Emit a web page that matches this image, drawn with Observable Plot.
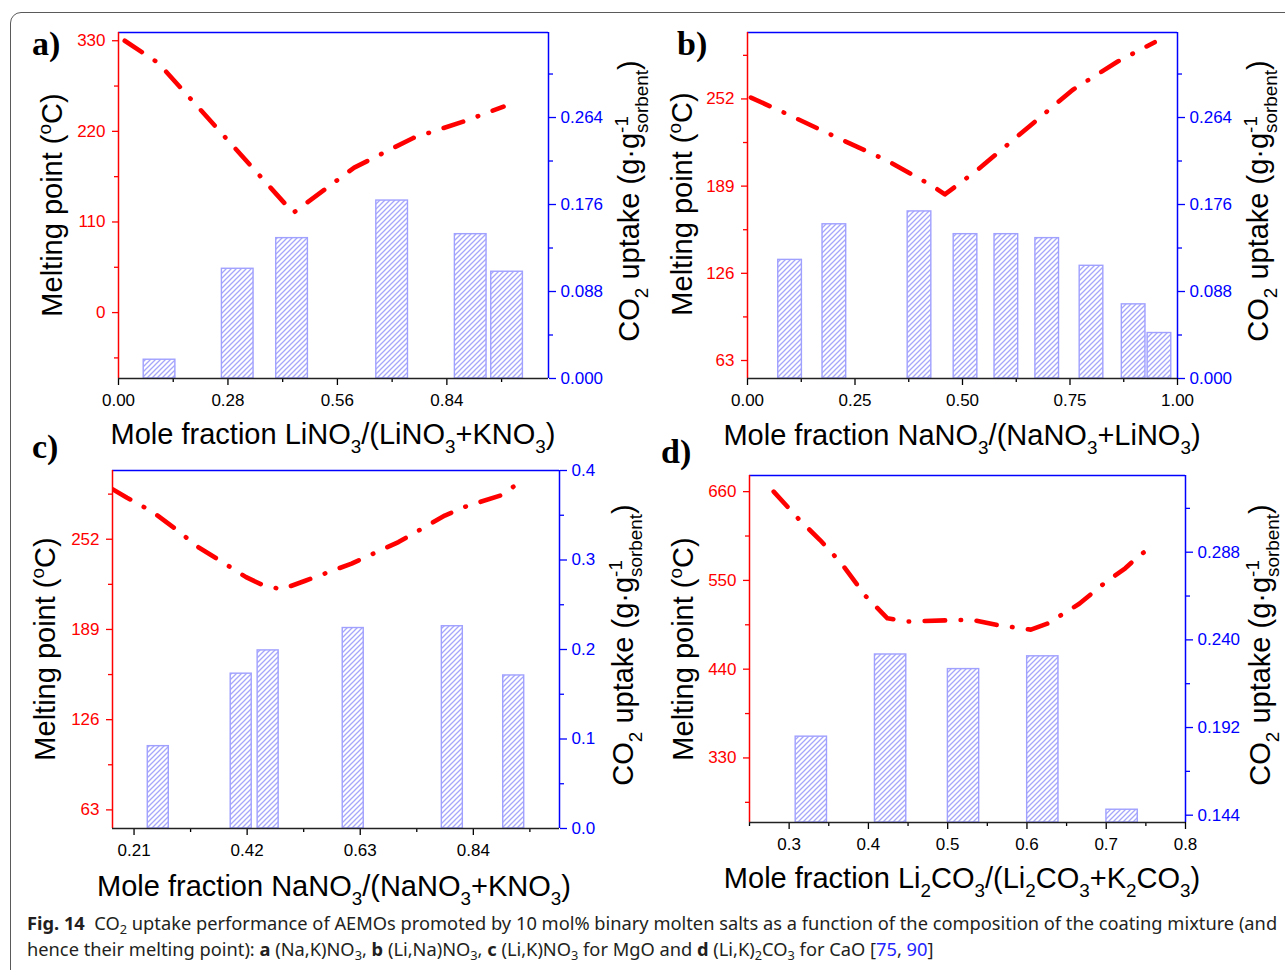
<!DOCTYPE html>
<html><head><meta charset="utf-8">
<script src="https://cdn.jsdelivr.net/npm/d3@7"></script>
<script src="https://cdn.jsdelivr.net/npm/@observablehq/plot@0.6"></script>
<style>
body{margin:0;background:#fff;}
#fig{position:relative;width:1285px;height:970px;overflow:hidden;background:#fff;}
#fig svg{position:absolute;left:0;top:0;}
#box{position:absolute;left:10px;top:12px;width:1330px;height:1000px;border:1.4px solid #5a5a5a;border-radius:11px;box-sizing:border-box;}
</style></head><body>
<div id="fig"><div id="box"></div></div>
<script>
// ---------- data ----------
// panel a: LiNO3/(LiNO3+KNO3)
const aBarX = [0.105, 0.305, 0.444, 0.700, 0.901, 0.994];
const aBarY = [0.019, 0.111, 0.142, 0.180, 0.146, 0.108];
const aLineX = [0.016, 0.102, 0.447, 0.603, 0.754, 0.883, 0.985];
const aLineY = [330, 303, 121, 176, 212, 232, 250];
const aXTicks = [0, 0.28, 0.56, 0.84];
const aLTicks = [0, 110, 220, 330];
const aRTicks = [0, 0.088, 0.176, 0.264];
// panel b: NaNO3/(NaNO3+LiNO3)
const bBarX = [0.099, 0.202, 0.400, 0.507, 0.602, 0.697, 0.800, 0.898, 0.958];
const bBarY = [0.120, 0.156, 0.169, 0.146, 0.146, 0.142, 0.114, 0.075, 0.046];
const bLineX = [0.008, 0.096, 0.211, 0.325, 0.431, 0.459, 0.536, 0.651, 0.756, 0.861, 0.947];
const bLineY = [253, 240.5, 223.7, 207.4, 189, 183, 201, 231, 258.5, 279, 293];
const bXTicks = [0, 0.25, 0.5, 0.75, 1.0];
const bLTicks = [63, 126, 189, 252];
const bRTicks = [0, 0.088, 0.176, 0.264];
// panel c: NaNO3/(NaNO3+KNO3)
const cBarX = [0.255, 0.409, 0.459, 0.617, 0.801, 0.915];
const cBarY = [0.092, 0.173, 0.199, 0.224, 0.226, 0.171];
const cLineX = [0.170, 0.197, 0.245, 0.284, 0.331, 0.370, 0.418, 0.449, 0.484, 0.528, 0.614, 0.701, 0.787, 0.827, 0.890, 0.933];
const cLineY = [287, 281, 271, 260, 246, 237, 225.5, 220, 217, 223, 235, 250, 268.5, 275, 282.5, 293.4];
const cXTicks = [0.21, 0.42, 0.63, 0.84];
const cLTicks = [63, 126, 189, 252];
const cRTicks = [0, 0.1, 0.2, 0.3, 0.4];
// panel d: Li2CO3/(Li2CO3+K2CO3)
const dBarX = [0.328, 0.428, 0.520, 0.620, 0.720];
const dBarY = [0.187, 0.232, 0.224, 0.231, 0.147];
const dLineX = [0.2805, 0.313, 0.339, 0.366, 0.397, 0.424, 0.450, 0.513, 0.534, 0.561, 0.605, 0.626, 0.666, 0.697, 0.724, 0.742, 0.762];
const dLineY = [660, 625, 600, 571, 530, 503, 499, 501, 500.5, 495, 489, 496.5, 521, 546, 565, 581, 595];
const dXTicks = [0.3, 0.4, 0.5, 0.6, 0.7, 0.8];
const dLTicks = [330, 440, 550, 660];
const dRTicks = [0.144, 0.192, 0.240, 0.288];

// ---------- layout / style ----------
const W = 1285, H = 970;
const RED = "#ff0000", BLUE = "#0000ff";
const FONT = "'Liberation Sans', Arial, sans-serif";
const fig = document.getElementById("fig");

const panels = [
  {frame:[118,32,548,378], xDomain:[0,1.1], xTicks:aXTicks, xMinor:[0.14,0.42,0.70,0.98], xFmt:".2f",
   lDomain:[-80,340], lTicks:aLTicks, lMinor:[-55,55,165,275],
   rDomain:[0,0.35], rTicks:aRTicks, rMinor:[0.044,0.132,0.22,0.308], rFmt:".3f",
   barX:aBarX, barY:aBarY, lineX:aLineX, lineY:aLineY, barW:0.081},
  {frame:[747,32,1177,378], xDomain:[0,1], xTicks:bXTicks, xMinor:[0.125,0.375,0.625,0.875], xFmt:".2f",
   lDomain:[50,300], lTicks:bLTicks, lMinor:[94.5,157.5,220.5,283.5],
   rDomain:[0,0.35], rTicks:bRTicks, rMinor:[0.044,0.132,0.22,0.308], rFmt:".3f",
   barX:bBarX, barY:bBarY, lineX:bLineX, lineY:bLineY, barW:0.055},
  {frame:[112,470,559,828], xDomain:[0.17,1.0], xTicks:cXTicks, xMinor:[0.315,0.525,0.735,0.945], xFmt:".2f",
   lDomain:[50,300], lTicks:cLTicks, lMinor:[94.5,157.5,220.5,283.5],
   rDomain:[0,0.4], rTicks:cRTicks, rMinor:[0.05,0.15,0.25,0.35], rFmt:".1f",
   barX:cBarX, barY:cBarY, lineX:cLineX, lineY:cLineY, barW:0.039},
  {frame:[749,475,1185,822], xDomain:[0.25,0.8], xTicks:dXTicks, xMinor:[0.25,0.35,0.45,0.55,0.65,0.75], xFmt:".1f",
   lDomain:[250,680], lTicks:dLTicks, lMinor:[275,385,495,605],
   rDomain:[0.14,0.33], rTicks:dRTicks, rMinor:[0.168,0.216,0.264,0.312], rFmt:".3f",
   barX:dBarX, barY:dBarY, lineX:dLineX, lineY:dLineY, barW:0.0395}
];

// hatch pattern defs placed inside each bar chart's own svg
function hatchDefs(id){
  return () => {
    const ns = "http://www.w3.org/2000/svg";
    const g = document.createElementNS(ns, "g");
    const defs = document.createElementNS(ns, "defs");
    const pat = document.createElementNS(ns, "pattern");
    const S = 5;
    pat.setAttribute("id", id);
    pat.setAttribute("patternUnits", "userSpaceOnUse");
    pat.setAttribute("width", S);
    pat.setAttribute("height", S);
    const bg = document.createElementNS(ns, "rect");
    bg.setAttribute("width", S); bg.setAttribute("height", S); bg.setAttribute("fill", "#ffffff");
    const path = document.createElementNS(ns, "path");
    path.setAttribute("d", `M-1,1 L1,-1 M0,${S} L${S},0 M${S-1},${S+1} L${S+1},${S-1}`);
    path.setAttribute("fill", "none");
    path.setAttribute("stroke", "#a6a6fb");
    path.setAttribute("stroke-width", "1.3");
    pat.appendChild(bg); pat.appendChild(path);
    defs.appendChild(pat); g.appendChild(defs);
    return g;
  };
}

function drawPanel(p, k){
  const [x0,y0,x1,y1] = p.frame;
  const base = {width:W, height:H, marginLeft:x0, marginRight:W-x1, marginTop:y0, marginBottom:H-y1,
    style:{background:"transparent", fontFamily:FONT, fontSize:"17px", overflow:"visible", maxWidth:"none"}};
  const xs = {type:"linear", domain:p.xDomain, axis:null};
  const bars = p.barX.map((x,i)=>({x, y:p.barY[i]}));
  const line = p.lineX.map((x,i)=>({x, y:p.lineY[i]}));
  const hw = p.barW/2, b0 = p.rDomain[0];
  const hid = "hatch" + k;
  const right = Plot.plot({...base, x:xs, y:{domain:p.rDomain, axis:null}, marks:[
    hatchDefs(hid),
    Plot.rect(bars, {x1:d=>d.x-hw, x2:d=>d.x+hw, y1:()=>b0, y2:"y", fill:`url(#${hid})`, stroke:"#a0a0ff", strokeWidth:1.4}),
    Plot.axisY({anchor:"right", ticks:p.rTicks, tickFormat:d3.format(p.rFmt), tickSize:7, tickPadding:5, color:BLUE, fontSize:17, strokeWidth:1.3, label:null}),
    Plot.axisY({anchor:"right", ticks:p.rMinor, tickFormat:()=>"", tickSize:4, color:BLUE, strokeWidth:1.3, label:null}),
    Plot.ruleX([p.xDomain[1]], {stroke:BLUE, strokeWidth:1.5}),
    Plot.ruleY([p.rDomain[1]], {stroke:BLUE, strokeWidth:1.5})
  ]});
  const left = Plot.plot({...base, x:xs, y:{domain:p.lDomain, axis:null}, marks:[
    Plot.line(line, {x:"x", y:"y", stroke:RED, strokeWidth:4.6, strokeDasharray:"20.5,15.5,0.5,15.5", strokeLinecap:"round", clip:true}),
    Plot.axisY({anchor:"left", ticks:p.lTicks, tickFormat:d=>String(d), tickSize:6, tickPadding:7, color:RED, fontSize:17, strokeWidth:1.3, label:null}),
    Plot.axisY({anchor:"left", ticks:p.lMinor, tickFormat:()=>"", tickSize:4, color:RED, strokeWidth:1.3, label:null}),
    Plot.axisX({anchor:"bottom", ticks:p.xTicks, tickFormat:d3.format(p.xFmt), tickSize:7, tickPadding:8, color:"black", fontSize:17, strokeWidth:1.3, label:null}),
    Plot.axisX({anchor:"bottom", ticks:p.xMinor, tickFormat:()=>"", tickSize:4, color:"black", strokeWidth:1.3, label:null}),
    Plot.ruleX([p.xDomain[0]], {stroke:RED, strokeWidth:1.5}),
    Plot.ruleY([p.lDomain[0]], {stroke:"#222", strokeWidth:1.6})
  ]});
  fig.appendChild(right);
  fig.appendChild(left);
}
panels.forEach(drawPanel);

// ---------- text overlay ----------
const ov = d3.select(fig).append("svg").attr("width", W).attr("height", H).style("overflow","visible");

function rich(sel, o){
  const size = o.size, subS = o.subScale || 0.65;
  const t = sel.append("text")
    .attr("transform", `translate(${o.x},${o.y})` + (o.rotate ? ` rotate(${o.rotate})` : ""))
    .attr("text-anchor", o.anchor || "middle").attr("font-family", o.family || FONT)
    .attr("font-size", size).attr("fill", o.fill || "black").style("white-space", "pre");
  if (o.weight) t.attr("font-weight", o.weight);
  let shift = 0;
  for (const part of o.parts){
    const q = typeof part === "string" ? {t:part} : part;
    let target = 0, fs = size, txt = q.t;
    if (q.sub !== undefined){ target = size*(o.subDy || 0.3); fs = size*subS; txt = q.sub; }
    if (q.sup !== undefined){ target = -size*0.38; fs = size*subS; txt = q.sup; }
    const ts = t.append("tspan").attr("dy", target - shift).attr("font-size", fs).text(txt);
    if (q.bold) ts.attr("font-weight", "bold");
    if (q.fill) ts.attr("fill", q.fill);
    shift = target;
    if (q.under !== undefined){
      const w = ts.node().getComputedTextLength();
      const t2 = size*0.32;
      t.append("tspan").attr("dx", -w).attr("dy", t2 - shift).attr("font-size", fs).text(q.under);
      shift = t2;
    }
  }
  if (shift !== 0) t.append("tspan").attr("dy", -shift).text("");
  return t;
}

const TS = 29;
const meltParts = ["Melting point (", {sup:"o"}, "C)"];
const co2Parts = ["CO", {sub:"2"}, " uptake (g·g", {sup:"-1", under:"sorbent"}, ")"];
// left titles
[[62,205],[692,204],[55,649],[693,649]].forEach(([x,y]) => rich(ov, {x, y, rotate:-90, size:TS, parts:meltParts}));
// right titles
[[639,201],[1268,201],[633,645],[1270,645]].forEach(([x,y]) => rich(ov, {x, y, rotate:-90, size:TS, parts:co2Parts}));
// x titles
rich(ov, {x:333, y:444, size:TS, parts:["Mole fraction LiNO",{sub:"3"},"/(LiNO",{sub:"3"},"+KNO",{sub:"3"},")"]});
rich(ov, {x:962, y:445, size:TS, parts:["Mole fraction NaNO",{sub:"3"},"/(NaNO",{sub:"3"},"+LiNO",{sub:"3"},")"]});
rich(ov, {x:334, y:896, size:TS, parts:["Mole fraction NaNO",{sub:"3"},"/(NaNO",{sub:"3"},"+KNO",{sub:"3"},")"]});
rich(ov, {x:962, y:888, size:TS, parts:["Mole fraction Li",{sub:"2"},"CO",{sub:"3"},"/(Li",{sub:"2"},"CO",{sub:"3"},"+K",{sub:"2"},"CO",{sub:"3"},")"]});
// panel letters
const SERIF = "'Liberation Serif', 'Times New Roman', serif";
[["a)",32,55],["b)",677,55],["c)",32,458],["d)",661,463]].forEach(([s,x,y]) =>
  rich(ov, {x, y, size:34, anchor:"start", family:SERIF, weight:"bold", parts:[s]}));

// caption
const CF = "'Noto Sans', 'Open Sans', sans-serif";
const cap1 = rich(ov, {x:0, y:0, size:18.5, anchor:"start", family:CF, fill:"#231f20", subScale:0.7, subDy:0.22,
  parts:[{t:"Fig. 14", bold:true}, "  CO", {sub:"2"}, " uptake performance of AEMOs promoted by 10 mol% binary molten salts as a function of the composition of the coating mixture (and"]});
const cap2 = rich(ov, {x:0, y:0, size:18.5, anchor:"start", family:CF, fill:"#231f20", subScale:0.7, subDy:0.22,
  parts:["hence their melting point): ", {t:"a", bold:true}, " (Na,K)NO", {sub:"3"}, ", ", {t:"b", bold:true}, " (Li,Na)NO", {sub:"3"}, ", ",
         {t:"c", bold:true}, " (Li,K)NO", {sub:"3"}, " for MgO and ", {t:"d", bold:true}, " (Li,K)", {sub:"2"}, "CO", {sub:"3"}, " for CaO [",
         {t:"75", fill:"#2424ff"}, ", ", {t:"90", fill:"#2424ff"}, "]"]});
const w1 = cap1.node().getBBox().width;
const sx = 1251 / w1;
cap1.attr("transform", `translate(27,930) scale(${sx},1)`);
cap2.attr("transform", `translate(27,956) scale(${sx},1)`);
</script>
</body></html>
